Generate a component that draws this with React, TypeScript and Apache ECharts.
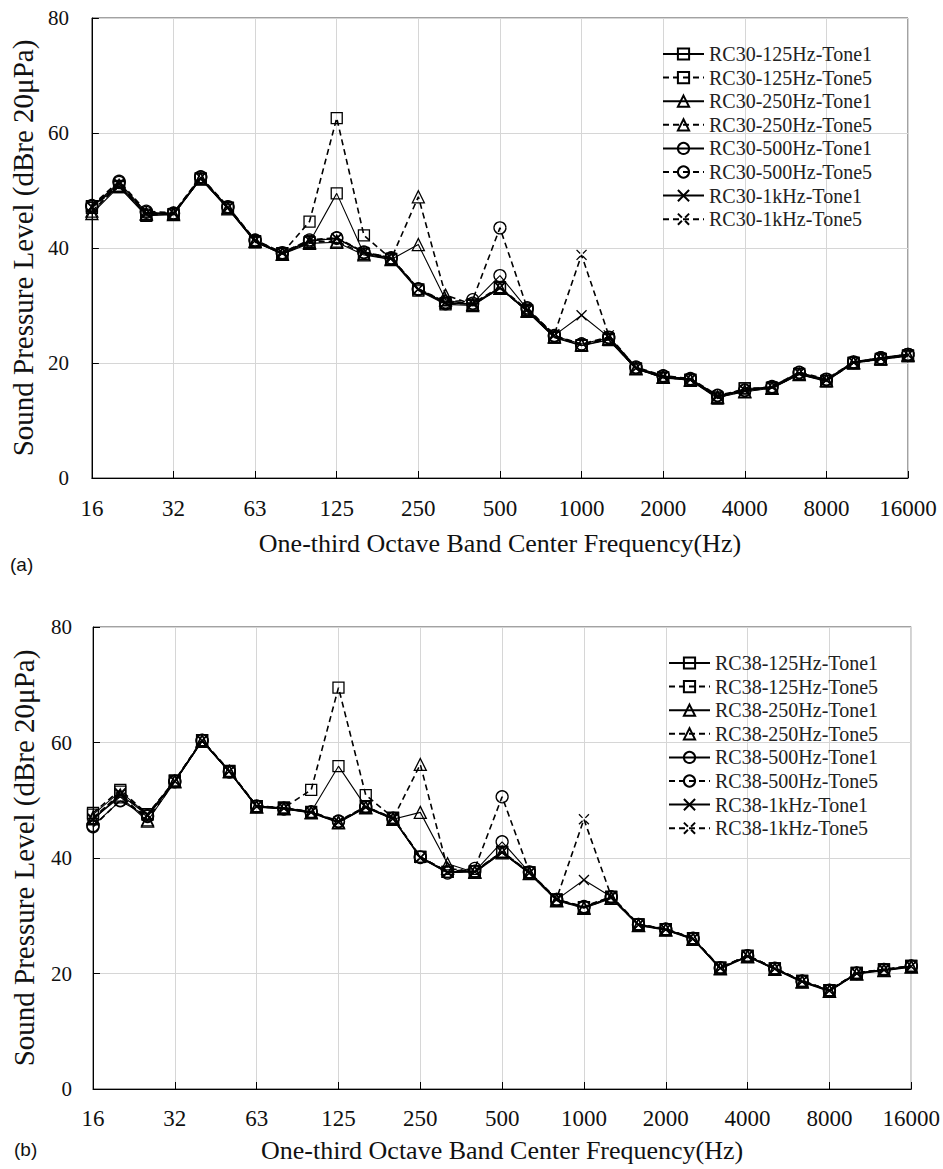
import React, { useEffect, useRef } from "react";
import * as echarts from "echarts";

// One-third octave band centre frequencies (Hz)
const bands = ["16", "20", "25", "32", "40", "50", "63", "80", "100", "125", "160", "200", "250", "315", "400", "500", "630", "800", "1000", "1250", "1600", "2000", "2500", "3150", "4000", "5000", "6300", "8000", "10000", "12500", "16000"];

// Panel (a) RC30
const rc30_125_t1 = [47.3, 50.6, 45.6, 45.8, 52.0, 46.9, 41.0, 39.0, 41.0, 49.5, 39.0, 38.0, 32.6, 30.2, 30.0, 33.2, 29.0, 24.4, 23.0, 24.0, 19.0, 17.4, 17.0, 13.8, 15.6, 15.6, 18.0, 16.8, 20.0, 20.6, 21.2];
const rc30_125_t5 = [47.0, 50.8, 45.8, 45.9, 52.1, 47.0, 41.2, 39.1, 44.6, 62.6, 42.2, 38.1, 32.8, 30.4, 30.2, 33.0, 29.2, 24.6, 23.1, 24.2, 19.0, 17.5, 17.1, 14.0, 15.6, 15.7, 18.1, 16.9, 20.0, 20.7, 21.3];
const rc30_250_t1 = [46.0, 50.7, 45.9, 45.8, 52.0, 46.8, 41.1, 38.9, 40.8, 41.0, 38.8, 38.0, 40.6, 31.0, 30.0, 33.0, 29.0, 24.5, 23.1, 24.1, 19.0, 17.5, 17.0, 14.0, 15.0, 15.6, 18.0, 16.9, 20.0, 20.7, 21.3];
const rc30_250_t5 = [46.4, 50.9, 46.0, 46.0, 52.1, 47.0, 41.2, 39.0, 41.0, 41.2, 39.0, 38.1, 48.9, 31.8, 30.2, 33.0, 29.1, 24.6, 23.2, 24.2, 19.1, 17.6, 17.1, 14.1, 15.1, 15.7, 18.1, 17.0, 20.1, 20.8, 21.4];
const rc30_500_t1 = [47.2, 51.4, 46.2, 46.0, 52.3, 47.1, 41.3, 39.1, 41.2, 41.7, 39.2, 38.2, 32.8, 30.3, 30.4, 35.2, 29.4, 24.7, 23.3, 24.4, 19.2, 17.7, 17.2, 14.3, 15.2, 15.8, 18.3, 17.1, 20.1, 20.9, 21.5];
const rc30_500_t5 = [47.4, 51.6, 46.4, 46.1, 52.4, 47.2, 41.4, 39.2, 41.4, 41.8, 39.3, 38.3, 32.9, 30.6, 31.0, 43.5, 29.6, 24.8, 23.3, 24.5, 19.3, 17.8, 17.3, 14.4, 15.3, 15.9, 18.4, 17.2, 20.2, 20.9, 21.5];
const rc30_1k_t1 = [47.1, 51.1, 46.0, 46.0, 52.2, 47.0, 41.3, 39.1, 41.3, 41.6, 39.2, 38.2, 32.8, 30.5, 30.3, 33.1, 29.2, 24.8, 28.3, 24.5, 19.1, 17.6, 17.1, 14.2, 15.2, 15.8, 18.2, 17.0, 20.1, 20.8, 21.4];
const rc30_1k_t5 = [47.2, 51.2, 46.1, 46.1, 52.3, 47.1, 41.3, 39.2, 41.3, 41.7, 39.3, 38.3, 32.9, 30.6, 30.4, 33.2, 29.3, 25.0, 38.8, 24.8, 19.2, 17.7, 17.2, 14.3, 15.3, 15.9, 18.3, 17.1, 20.2, 20.9, 21.5];

// Panel (b) RC38
const rc38_125_t1 = [47.5, 51.5, 47.5, 53.4, 60.4, 55.0, 49.0, 48.7, 48.0, 55.9, 48.9, 46.9, 40.2, 37.6, 37.7, 41.0, 37.5, 32.8, 31.4, 33.2, 28.5, 27.7, 26.1, 21.0, 23.0, 20.9, 18.7, 17.1, 20.1, 20.7, 21.3];
const rc38_125_t5 = [47.8, 51.8, 47.6, 53.4, 60.4, 55.1, 49.0, 48.7, 51.8, 69.5, 50.9, 47.0, 40.2, 37.6, 37.7, 41.1, 37.5, 32.8, 31.5, 33.3, 28.5, 27.7, 26.1, 21.0, 23.1, 20.9, 18.7, 17.1, 20.1, 20.7, 21.3];
const rc38_250_t1 = [46.8, 50.6, 46.4, 53.2, 60.2, 54.9, 48.8, 48.5, 47.8, 46.1, 48.7, 46.7, 47.9, 39.0, 37.5, 40.9, 37.3, 32.6, 31.3, 33.0, 28.3, 27.5, 25.9, 20.8, 22.9, 20.7, 18.5, 16.9, 19.9, 20.5, 21.1];
const rc38_250_t5 = [47.0, 50.9, 46.6, 53.3, 60.3, 55.0, 48.9, 48.6, 47.9, 46.2, 48.8, 46.8, 56.2, 38.2, 37.6, 41.0, 37.4, 32.7, 31.4, 33.1, 28.4, 27.6, 26.0, 20.9, 23.0, 20.8, 18.6, 17.0, 20.0, 20.6, 21.2];
const rc38_500_t1 = [45.6, 49.9, 47.2, 53.2, 60.3, 54.9, 48.9, 48.5, 47.9, 46.3, 48.8, 46.8, 40.1, 37.4, 37.7, 42.8, 37.5, 32.8, 31.5, 33.2, 28.4, 27.6, 26.0, 20.9, 23.0, 20.8, 18.6, 17.0, 20.0, 20.6, 21.2];
const rc38_500_t5 = [45.4, 50.0, 47.3, 53.3, 60.4, 55.0, 49.0, 48.6, 48.0, 46.4, 48.9, 46.9, 40.2, 37.6, 38.2, 50.6, 37.6, 32.8, 31.6, 33.3, 28.5, 27.7, 26.1, 21.0, 23.1, 20.9, 18.7, 17.1, 20.1, 20.7, 21.3];
const rc38_1k_t1 = [46.6, 51.0, 47.4, 53.3, 60.3, 55.0, 48.9, 48.6, 47.9, 46.2, 48.8, 46.8, 40.0, 37.5, 37.6, 41.0, 37.4, 32.8, 36.2, 33.3, 28.4, 27.6, 26.0, 20.9, 23.0, 20.8, 18.6, 17.0, 20.0, 20.6, 21.2];
const rc38_1k_t5 = [46.8, 51.2, 47.5, 53.4, 60.4, 55.1, 49.0, 48.7, 48.0, 46.3, 48.9, 46.9, 40.1, 37.6, 37.7, 41.1, 37.5, 33.0, 46.7, 33.4, 28.5, 27.7, 26.1, 21.0, 23.1, 20.9, 18.7, 17.1, 20.1, 20.7, 21.3];

const yTicks = [0, 20, 40, 60, 80];
const yTitle = "Sound Pressure Level (dBre 20\u03bcPa)";
const xTitle = "One-third Octave Band Center Frequency(Hz)";

const SERIF = "Liberation Serif";

const X_SYMBOL = "path://M0,0L10,10M0,10L10,0";
const X_DASH_SYMBOL = "path://M0,0L3.6,3.6M6.4,6.4L10,10M0,10L3.6,6.4M6.4,3.6L10,0";

type Spec = { suffix: string; data: number[]; symbol: string; size: number; dashed: boolean };

function specs(a: number[][]): Spec[] {
  return [
    { suffix: "125Hz-Tone1", data: a[0], symbol: "rect", size: 11, dashed: false },
    { suffix: "125Hz-Tone5", data: a[1], symbol: "rect", size: 11, dashed: true },
    { suffix: "250Hz-Tone1", data: a[2], symbol: "triangle", size: 12, dashed: false },
    { suffix: "250Hz-Tone5", data: a[3], symbol: "triangle", size: 12, dashed: true },
    { suffix: "500Hz-Tone1", data: a[4], symbol: "circle", size: 12, dashed: false },
    { suffix: "500Hz-Tone5", data: a[5], symbol: "circle", size: 12, dashed: true },
    { suffix: "1kHz-Tone1", data: a[6], symbol: X_SYMBOL, size: 10, dashed: false },
    { suffix: "1kHz-Tone5", data: a[7], symbol: X_DASH_SYMBOL, size: 10, dashed: true },
  ];
}

export default function App() {
  const ref = useRef<HTMLDivElement>(null);

  useEffect(() => {
    if (!ref.current) return;
    const chart = echarts.init(ref.current, null, { renderer: "svg" });

    const panelA = specs([rc30_125_t1, rc30_125_t5, rc30_250_t1, rc30_250_t5, rc30_500_t1, rc30_500_t5, rc30_1k_t1, rc30_1k_t5]);
    const panelB = specs([rc38_125_t1, rc38_125_t5, rc38_250_t1, rc38_250_t5, rc38_500_t1, rc38_500_t5, rc38_1k_t1, rc38_1k_t5]);

    const mkSeries = (list: Spec[], prefix: string, idx: number) =>
      list.map((s) => ({
        name: prefix + "-" + s.suffix,
        type: "line",
        xAxisIndex: idx,
        yAxisIndex: idx,
        data: s.data,
        symbol: s.symbol,
        symbolSize: s.size,
        showAllSymbol: true,
        lineStyle: {
          color: "#000",
          width: s.dashed ? 1.6 : 1.1,
          type: s.dashed ? [6, 4] : "solid",
        },
        itemStyle: {
          color: "rgba(255,255,255,0)",
          borderColor: "#000",
          borderWidth: 1.3,
        },
        emphasis: { disabled: true },
      }));

    const xAxis = (gridIndex: number, labelMargin: number, nameGap: number) => ({
      type: "category",
      gridIndex,
      data: bands,
      boundaryGap: false,
      axisLine: { lineStyle: { color: "#000", width: 1 } },
      axisTick: { show: true, inside: true, interval: 2, length: 7, lineStyle: { color: "#000" } },
      axisLabel: { interval: 2, fontFamily: SERIF, fontSize: 23, color: "#111", margin: labelMargin },
      splitLine: { show: true, interval: 2, lineStyle: { color: "#d6d6d6", width: 1 } },
      name: xTitle,
      nameLocation: "middle",
      nameGap,
      nameTextStyle: { fontFamily: SERIF, fontSize: 26, color: "#111" },
    });

    const yAxis = (gridIndex: number, labelMargin: number, nameGap: number) => ({
      type: "value",
      gridIndex,
      min: yTicks[0],
      max: yTicks[yTicks.length - 1],
      interval: yTicks[1] - yTicks[0],
      axisLine: { show: true, lineStyle: { color: "#000", width: 1 } },
      axisTick: { show: true, inside: true, length: 7, lineStyle: { color: "#000" } },
      axisLabel: { fontFamily: SERIF, fontSize: 21, color: "#111", margin: labelMargin },
      splitLine: { show: true, lineStyle: { color: "#d6d6d6", width: 1 } },
      name: yTitle,
      nameLocation: "middle",
      nameGap,
      nameTextStyle: { fontFamily: SERIF, fontSize: 29, color: "#111" },
    });

    const legend = (prefix: string, list: Spec[], left: number, top: number) => ({
      show: true,
      orient: "vertical",
      left,
      top,
      itemWidth: 41,
      itemHeight: 14,
      itemGap: 3.6,
      selectedMode: false,
      data: list.map((s) => prefix + "-" + s.suffix),
      textStyle: { fontFamily: SERIF, fontSize: 20, color: "#222" },
    });

    chart.setOption({
      animation: false,
      backgroundColor: "#fff",
      textStyle: { fontFamily: SERIF },
      grid: [
        { left: 86, top: 18, width: 822, height: 460, show: true, borderColor: "#444", borderWidth: 1, containLabel: false },
        { left: 93, top: 627, width: 822, height: 462, show: true, borderColor: "#444", borderWidth: 1, containLabel: false },
      ],
      xAxis: [xAxis(0, 19, 52), xAxis(1, 18, 48)],
      yAxis: [yAxis(0, 23, 50), yAxis(1, 21, 55)],
      legend: [legend("RC30", panelA, 657, 39), legend("RC38", panelB, 663, 648)],
      series: [...mkSeries(panelA, "RC30", 0), ...mkSeries(panelB, "RC38", 1)],
      graphic: [
        { type: "text", left: 10, top: 555, style: { text: "(a)", font: "19px Liberation Sans", fill: "#111" } },
        { type: "text", left: 14, top: 1140, style: { text: "(b)", font: "19px Liberation Sans", fill: "#111" } },
      ],
    });

    return () => chart.dispose();
  }, []);

  return (
    <div
      ref={ref}
      style={{ position: "absolute", left: 0, top: 0, width: 943, height: 1169, background: "#fff" }}
    />
  );
}
